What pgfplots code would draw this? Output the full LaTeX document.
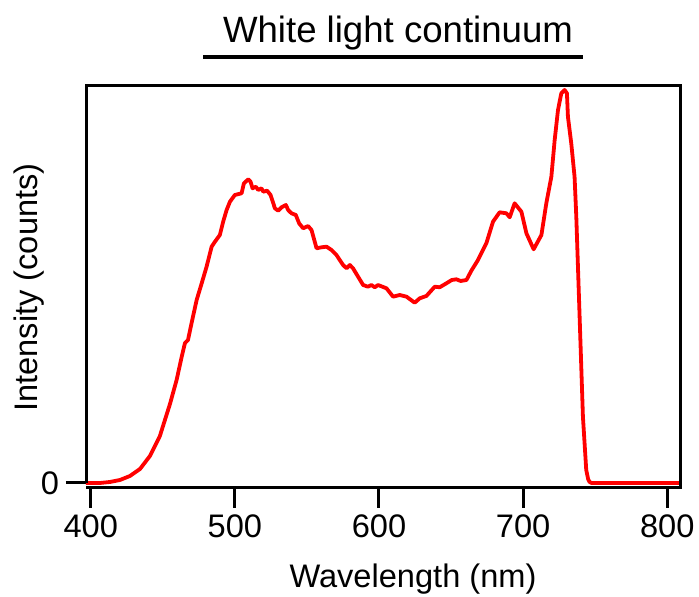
\documentclass[border=0pt]{standalone}
\usepackage{pgfplots}
\pgfplotsset{compat=1.18}
\usepackage{fontspec}
\setmainfont{Liberation Sans}
\begin{document}
\begin{tikzpicture}
\begin{axis}[
  scale only axis,
  width=297.25pt, height=201.25pt,
  xmin=396.74, xmax=809.2,
  ymin=-0.01277, ymax=1.01533,
  xtick={400,500,600,700,800},
  ytick={0},
  tick pos=left,
  tick align=outside,
  major tick length=10pt,
  major tick style={line width=1.5pt, black},
  axis line style={draw=none},
  /pgf/number format/assume math mode=true,
  ticklabel style={font=\fontsize{16.3}{19}\selectfont},
]
\addplot[color=red, line width=1.9pt, line join=round] coordinates {
(396.7,0) (400.0,0) (406.4,0) (413.4,0.0026) (420.3,0.0077) (427.2,0.0179)
(434.2,0.0358) (441.1,0.0690) (448.0,0.1201) (455.0,0.2018) (459.6,0.2631)
(463.1,0.3218) (465.4,0.3576) (467.5,0.3653) (470.0,0.4087) (473.5,0.4674)
(477.0,0.5101) (480.4,0.5525) (483.9,0.6036) (486.2,0.6163) (489.6,0.6335)
(491.9,0.6674) (494.3,0.6973) (496.6,0.7185) (500.0,0.7356) (504.7,0.7400)
(506.3,0.7655) (509.3,0.7757) (510.9,0.7696) (512.3,0.7527) (514.6,0.7568)
(516.2,0.7484) (518.5,0.7527) (519.7,0.7441) (522.4,0.7466) (524.8,0.7356)
(527.8,0.7017) (530.1,0.6955) (532.4,0.7042) (535.4,0.7101) (537.0,0.6973)
(539.3,0.6889) (542.3,0.6845) (544.6,0.6633) (547.4,0.6506) (550.8,0.6564)
(553.2,0.6462) (556.7,0.5995) (560.1,0.6020) (563.6,0.6036) (567.1,0.5951)
(570.5,0.5824) (575.1,0.5568) (577.5,0.5484) (579.8,0.5568) (582.0,0.5484)
(585.5,0.5270) (589.0,0.5057) (592.4,0.5014) (594.8,0.5057) (597.1,0.4999)
(599.4,0.5057) (605.2,0.4973) (609.8,0.4759) (614.4,0.4802) (619.1,0.4759)
(624.8,0.4605) (628.3,0.4718) (632.9,0.4777) (638.7,0.5014) (642.1,0.4999)
(646.8,0.5101) (650.5,0.5185) (653.7,0.5203) (656.7,0.5160) (660.7,0.5185)
(664.1,0.5423) (668.7,0.5696) (674.5,0.6123) (679.1,0.6674) (683.7,0.6914)
(688.4,0.6889) (690.7,0.6787) (694.1,0.7144) (698.8,0.6930) (702.3,0.6378)
(707.3,0.5969) (712.7,0.6335) (716.1,0.7144) (719.6,0.7824) (721.9,0.8761)
(724.2,0.9527) (726.5,0.9954) (728.8,1.0038) (730.4,0.9954) (731.1,0.9356)
(733.4,0.8677) (735.7,0.7824) (736.9,0.6802) (739.2,0.4248) (741.5,0.1693)
(743.8,0.0332) (745.1,0.0102) (746.1,0.0026) (747.5,0) (809.2,0)
};
\coordinate (bl) at (rel axis cs:0,0);
\coordinate (tl) at (rel axis cs:0,1);
\coordinate (tr) at (rel axis cs:1,1);
\coordinate (br) at (rel axis cs:1,0);
\coordinate (z0) at (axis cs:396.74,0);
\end{axis}
\draw[line width=1.5pt, line join=miter] (z0) -- (tl) -- (tr) -- (br);
\draw[line width=1.5pt] (bl) -- ([xshift=0.75pt]br);
% title
\node[anchor=base, inner sep=0pt, font=\fontsize{18.3}{22}\selectfont] at ([shift={(156pt,222.5pt)}]bl) {White light continuum};
\draw[line width=1.75pt] ([shift={(58.5pt,215.5pt)}]bl) -- ([shift={(248.5pt,215.5pt)}]bl);
% axis labels
\node[anchor=base, inner sep=0pt, font=\fontsize{16.3}{19}\selectfont] at ([shift={(163.5pt,-50pt)}]bl) {Wavelength (nm)};
\node[anchor=base, rotate=90, inner sep=0pt, font=\fontsize{16.3}{19}\selectfont] at ([shift={(-24pt,100.25pt)}]bl) {Intensity (counts)};
\pgfresetboundingbox
\path ([shift={(-43pt,-54.5pt)}]bl) rectangle ([shift={(9.25pt,42.75pt)}]tr);
\end{tikzpicture}
\end{document}
